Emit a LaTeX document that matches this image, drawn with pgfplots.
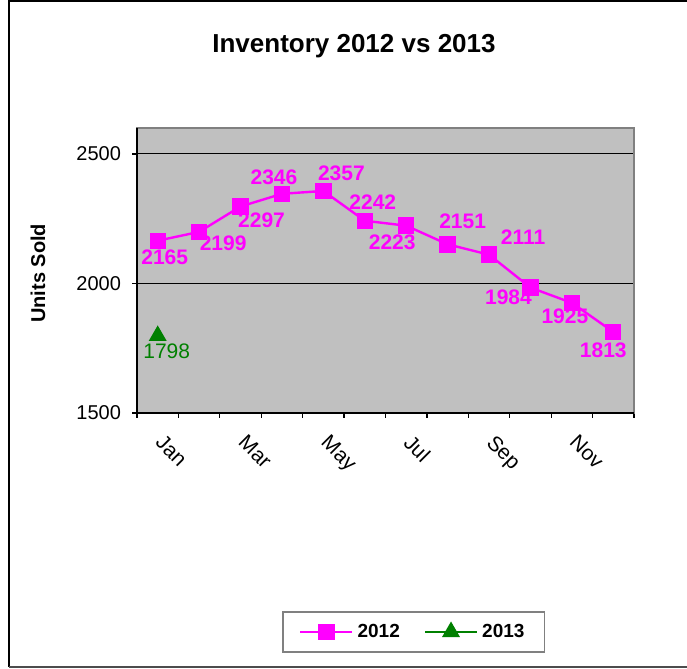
\documentclass[border=0pt]{standalone}
\usepackage{pgfplots}
\pgfplotsset{compat=1.18}
\usepackage{pgfplotstable}
\usepackage{fontspec}
\setmainfont{Liberation Sans}
\definecolor{xlmag}{HTML}{FF00FF}
\definecolor{xlgreen}{HTML}{008000}
\definecolor{xlgray}{HTML}{C0C0C0}
\definecolor{xlborder}{HTML}{808080}
\newlength\px
\setlength\px{0.5pt}

\pgfplotstableread{
m v dx dy
1 2165 7 -17
2 2199 24 -11
3 2297 21 -14
4 2346 -8 17
5 2357 18 18
6 2242 8 19
7 2223 -14 -17
8 2151 15 23
9 2111 34 18
10 1984 -22 -10
11 1925 -7 -13
12 1813 -10 -18
}\dataA
\pgfplotstableread{
m v dx dy
1 1798 9 -15
}\dataB

\begin{document}
\begin{tikzpicture}[x=\px,y=\px]
\useasboundingbox (0,0) rectangle (687,669);
\draw[black, line width=0.8pt] (9,2) -- (9,668) -- (700,668);
\draw[black!70, line width=0.8pt] (9,2) -- (700,2);
\node[font=\fontsize{13}{15}\selectfont\bfseries] at (354,623) {Inventory 2012 vs 2013};
\begin{axis}[
  at={(137\px,256\px)}, anchor=south west,
  scale only axis, width=497\px, height=285\px,
  xmin=0.5, xmax=12.5, ymin=1500, ymax=2600,
  ytick={1500,2000,2500},
  scaled y ticks=false,
  /pgf/number format/1000 sep={},
  /pgf/number format/assume math mode=true,
  xtick={1,3,5,7,9,11},
  xticklabels={Jan,Mar,May,Jul,Sep,Nov},
  minor xtick={0.5,1.5,...,12.5},
  major x tick style={draw=none},
  tick align=outside,
  major tick length=5\px, minor tick length=5\px,
  xtick pos=bottom, ytick pos=left,
  tick style={black, line width=0.6pt},
  ymajorgrids, grid style={black, line width=0.5pt},
  axis background/.style={fill=xlgray},
  axis line style={xlborder, line width=1pt},
  tick label style={font=\fontsize{10}{12}\selectfont},
  yticklabel style={xshift=-4\px},
  xticklabel style={font=\fontsize{10.5}{12}\selectfont, rotate=-45, anchor=north west, xshift=9\px, yshift=1\px},
  ylabel={Units Sold},
  ylabel style={font=\fontsize{10}{12}\selectfont\bfseries, at={(axis description cs:-0.199,0.49)}, anchor=center},
  legend columns=2,
  legend style={at={(axis description cs:0.557,-0.768)}, anchor=center, draw=xlborder, line width=0.8pt,
     font=\fontsize{9.5}{11}\selectfont\bfseries, inner xsep=8pt, inner ysep=4pt,
     /tikz/every even column/.append style={column sep=10pt}},
  legend image code/.code={\draw[mark repeat=2,mark phase=2,#1] plot coordinates {(0pt,0pt) (13pt,0pt) (26pt,0pt)};},
  point meta=explicit symbolic,
  nodes near coords,
  visualization depends on={\thisrow{dx} \as \dx},
  visualization depends on={\thisrow{dy} \as \dy},
  clip=false,
  after end axis/.code={\draw[black, line width=1pt] (rel axis cs:0,1) -- (rel axis cs:0,0) -- (rel axis cs:1,0);},
]
\addplot[xlmag, line width=1.2pt, mark=square*, mark size=3.5pt, mark options={solid},
  nodes near coords style={font=\fontsize{10.5}{12}\selectfont\bfseries, text=xlmag, anchor=center, xshift={(\dx)*0.5pt}, yshift={(\dy)*0.5pt}}]
  table[x=m, y=v, meta=v] {\dataA};
\addlegendentry{2012}
\addplot[xlgreen, line width=1.2pt, mark=triangle*, mark size=4pt, mark options={solid},
  nodes near coords style={font=\fontsize{10.5}{12}\selectfont, text=xlgreen, anchor=center, xshift={(\dx)*0.5pt}, yshift={(\dy)*0.5pt}}]
  table[x=m, y=v, meta=v] {\dataB};
\addlegendentry{2013}
\end{axis}
\end{tikzpicture}
\end{document}
